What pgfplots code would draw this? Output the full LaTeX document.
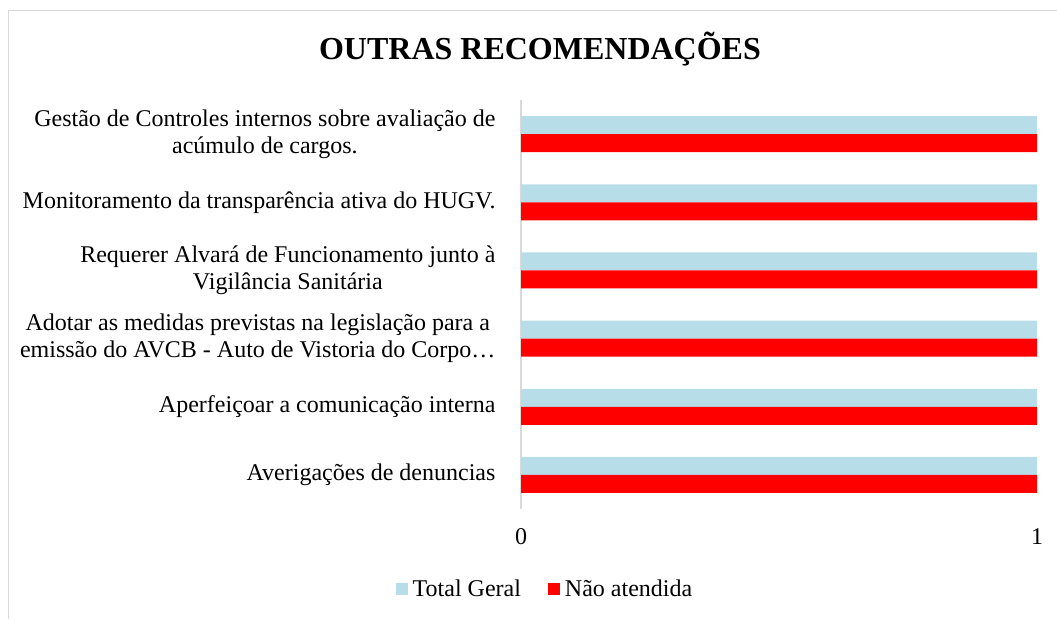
\documentclass[border=0pt]{standalone}
\usepackage{fontspec}
\setmainfont{Liberation Serif}
\usepackage{pgfplots}
\pgfplotsset{compat=1.18}
\definecolor{lblue}{RGB}{183,222,232}
\definecolor{lred}{RGB}{255,0,0}
\definecolor{frame}{RGB}{217,217,217}
\begin{document}
\begin{tikzpicture}[x=1pt,y=1pt]
\useasboundingbox (0,0) rectangle (1057,-619);
\draw[frame,line width=1pt] (8,-619) -- (8,-10) -- (1057,-10);
\node[font=\fontsize{32}{36}\selectfont\bfseries] at (540,-49) {OUTRAS RECOMENDAÇÕES};
\begin{axis}[
  at={(521pt,-509pt)}, anchor=south west,
  width=516pt, height=409pt, scale only axis,
  xmin=0, xmax=1, ymin=-0.5, ymax=5.5,
  xtick={0,1}, ytick={0,1,2,3,4,5},
  yticklabels={
    {Averigações de denuncias},
    {Aperfeiçoar a comunicação interna},
    {Adotar as medidas previstas na legislação para a\\emissão do AVCB - Auto de Vistoria do Corpo…},
    {Requerer Alvará de Funcionamento junto à\\Vigilância Sanitária},
    {Monitoramento da transparência ativa do HUGV.},
    {Gestão de Controles internos sobre avaliação de\\acúmulo de cargos.}},
  /pgf/number format/assume math mode=true,
  tick label style={font=\fontsize{24}{27}\selectfont},
  yticklabel style={align=center, xshift=-22pt},
  xticklabel style={yshift=-16pt},
  major tick length=0pt,
  axis lines*=left,
  x axis line style={draw=none},
  y axis line style={draw=frame, line width=1.5pt},
  legend style={at={(0.0465,-0.196)}, anchor=center, draw=none, fill=none,
    legend columns=2, font=\fontsize{24}{27}\selectfont,
    /tikz/every odd column/.append style={column sep=3pt},
    /tikz/every even column/.append style={column sep=25pt},
    legend cell align=left},
  legend image code/.code={\fill[#1] (0pt,-6pt) rectangle (12pt,6pt);},
]
\addplot[xbar, bar width=18pt, bar shift=9pt, fill=lblue, draw=none]
  coordinates {(1,0) (1,1) (1,2) (1,3) (1,4) (1,5)};
\addlegendentry{Total Geral}
\addplot[xbar, bar width=18pt, bar shift=-9pt, fill=lred, draw=none]
  coordinates {(1,0) (1,1) (1,2) (1,3) (1,4) (1,5)};
\addlegendentry{Não atendida}
\end{axis}
\end{tikzpicture}
\end{document}
